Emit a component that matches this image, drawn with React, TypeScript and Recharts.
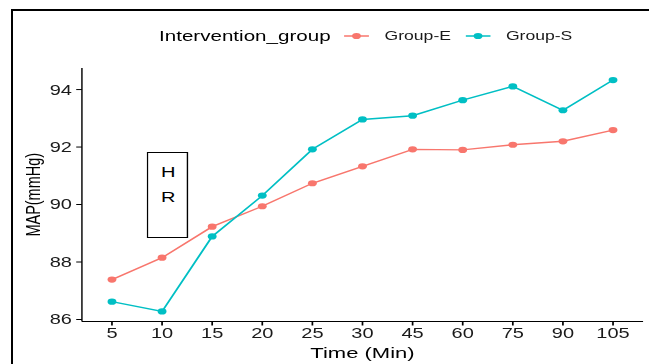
import { LineChart, Line, XAxis, YAxis, Legend } from 'recharts';

const times = ['5', '10', '15', '20', '25', '30', '45', '60', '75', '90', '105'];
const groupE = [87.39, 88.15, 89.23, 89.94, 90.74, 91.33, 91.92, 91.9, 92.08, 92.2, 92.59];
const groupS = [86.62, 86.28, 88.89, 90.31, 91.92, 92.96, 93.09, 93.63, 94.11, 93.28, 94.33];
const yTicks = [86, 88, 90, 92, 94];

const data = times.map((t, i) => ({ time: t, 'Group-E': groupE[i], 'Group-S': groupS[i] }));

const FONT = '"Liberation Sans", Arial, Helvetica, sans-serif';
const RED = '#F8766D';
const TEAL = '#00BFC4';
// the reference picture is stretched sideways, so draw narrow and widen it
const STRETCH = 1.43;

function LegendBox({ payload }: any) {
  return (
    <div style={{ display: 'flex', alignItems: 'center', height: 18, paddingLeft: 105.6, fontFamily: FONT }}>
      <span style={{ fontSize: 14.4, color: '#000', marginRight: 9.8 }}>Intervention_group</span>
      {(payload || []).map((p: any) => (
        <div key={p.value} style={{ display: 'flex', alignItems: 'center', marginRight: 10.5 }}>
          <svg width={17.4} height={8}>
            <line x1={0} y1={4} x2={17.4} y2={4} stroke={p.color} strokeWidth={1.4} />
            <circle cx={8.7} cy={4} r={3.1} fill={p.color} />
          </svg>
          <span style={{ fontSize: 12.3, color: '#1a1a1a', marginLeft: 10.5 }}>{p.value}</span>
        </div>
      ))}
    </div>
  );
}

export default function App() {
  return (
    <div style={{ position: 'relative', width: 649, height: 356, fontFamily: FONT }}>
      <style>{'body{overflow:hidden}'}</style>
      <div
        style={{
          position: 'absolute',
          left: 3,
          top: 0.5,
          width: 644,
          height: 400,
          border: '2px solid #000',
          boxSizing: 'border-box',
        }}
      />
      <div style={{ position: 'absolute', left: 0, top: 0, transform: `scaleX(${STRETCH})`, transformOrigin: '0 0' }}>
        <LineChart width={454} height={356} data={data} margin={{ top: 42, right: 9.9, left: 0, bottom: 0 }}>
          <XAxis
            dataKey="time"
            padding={{ left: 21, right: 21 }}
            height={42.5}
            tickSize={4}
            tickMargin={3}
            stroke="#000"
            strokeWidth={1.2}
            tick={{ fill: '#1a1a1a', fontSize: 14, fontFamily: FONT }}
            label={{ value: 'Time (Min)', position: 'insideBottom', offset: 6, fill: '#000', fontSize: 15.4, fontFamily: FONT }}
          />
          <YAxis
            domain={[85.93, 94.75]}
            ticks={yTicks}
            width={51.7}
            tickSize={4}
            tickMargin={3}
            stroke="#000"
            strokeWidth={1}
            tick={{ fill: '#1a1a1a', fontSize: 14, fontFamily: FONT }}
            label={{ value: 'MAP(mmHg)', angle: -90, position: 'insideLeft', offset: 17.5, fill: '#000', fontSize: 14.5, fontFamily: FONT, style: { textAnchor: 'middle' } }}
          />
          <Legend verticalAlign="top" content={<LegendBox />} wrapperStyle={{ position: 'absolute', top: 19, left: 0, width: 454 }} />
          <Line
            type="linear"
            dataKey="Group-E"
            stroke={RED}
            strokeWidth={1.4}
            dot={{ r: 3.1, fill: RED, stroke: RED, strokeWidth: 0 }}
            activeDot={false}
            isAnimationActive={false}
          />
          <Line
            type="linear"
            dataKey="Group-S"
            stroke={TEAL}
            strokeWidth={1.4}
            dot={{ r: 3.1, fill: TEAL, stroke: TEAL, strokeWidth: 0 }}
            activeDot={false}
            isAnimationActive={false}
          />
        </LineChart>
        <div
          style={{
            position: 'absolute',
            left: 97.4,
            top: 143.7,
            width: 28.3,
            height: 86.6,
            border: '1.3px solid #000',
            boxSizing: 'border-box',
            textAlign: 'center',
            fontSize: 14,
            lineHeight: '25px',
            paddingTop: 7.5,
            paddingLeft: 1,
            color: '#000',
            background: '#fff',
          }}
        >
          H
          <br />
          R
        </div>
      </div>
    </div>
  );
}
